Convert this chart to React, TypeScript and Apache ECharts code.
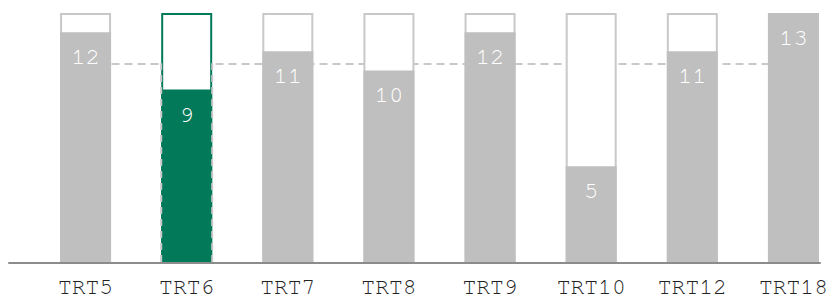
import React, { useEffect, useRef } from 'react';
import * as echarts from 'echarts';

const categories = ['TRT5', 'TRT6', 'TRT7', 'TRT8', 'TRT9', 'TRT10', 'TRT12', 'TRT18'];
const values = [12, 9, 11, 10, 12, 5, 11, 13];
const maxValue = 13;
const highlightIndex = 1;

const GREEN = '#027a5a';
const GRAY_BAR = '#bfbfbf';
const GRAY_LINE = '#c8c8c8';
const MONO = "'Nimbus Mono PS', 'Nimbus Mono L', FreeMono, 'Courier 10 Pitch', Courier, 'Liberation Mono', monospace";
const BAR_W = 51;
const CHART_W = 846;

export default function App() {
  const ref = useRef<HTMLDivElement>(null);
  useEffect(() => {
    document.body.style.margin = '0';
    document.body.style.overflow = 'hidden';
    const chart = echarts.init(ref.current!, null, { renderer: 'svg' });
    const avg = values.reduce((a, b) => a + b, 0) / values.length;

    chart.setOption({
      animation: false,
      grid: [
        { left: 9, right: CHART_W - 820, top: 13, bottom: 36 },
        { left: 35, right: 2, top: 13, bottom: 36 },
      ],
      xAxis: [
        {
          type: 'category', gridIndex: 0, data: categories,
          axisLine: { show: true, lineStyle: { color: '#8c8c8c', width: 2 } },
          axisTick: { show: false }, axisLabel: { show: false }, splitLine: { show: false },
        },
        {
          type: 'category', gridIndex: 1, data: categories,
          axisLine: { show: false }, axisTick: { show: false }, splitLine: { show: false },
          axisLabel: { color: '#222', fontFamily: MONO, fontSize: 23, margin: 14 },
        },
      ],
      yAxis: [
        { type: 'value', gridIndex: 0, min: 0, max: maxValue, show: false },
        { type: 'value', gridIndex: 1, min: 0, max: maxValue, show: false },
      ],
      series: [
        {
          type: 'line', xAxisIndex: 1, yAxisIndex: 1, data: values, z: 0,
          showSymbol: false, symbol: 'none', silent: true,
          lineStyle: { opacity: 0 },
          markLine: {
            z: 1, silent: true, symbol: 'none', label: { show: false },
            lineStyle: { type: [8, 5], color: GRAY_LINE, width: 2 },
            data: [[
              { coord: [0, avg] },
              { coord: [categories.length - 1, avg] },
            ]],
          },
        },
        {
          type: 'bar', xAxisIndex: 1, yAxisIndex: 1, z: 2, barWidth: BAR_W, barGap: '-100%', silent: true,
          data: categories.map((_, i) => ({
            value: maxValue,
            itemStyle: { color: '#fff', borderColor: i === highlightIndex ? GREEN : GRAY_LINE, borderWidth: 2 },
          })),
        },
        {
          type: 'bar', xAxisIndex: 1, yAxisIndex: 1, z: 3, barWidth: BAR_W, barGap: '-100%', silent: true,
          data: values.map((v, i) => ({
            value: v,
            itemStyle: { color: i === highlightIndex ? GREEN : GRAY_BAR },
          })),
          label: {
            show: true, position: 'insideTop', distance: 13, color: '#fff',
            fontFamily: MONO, fontSize: 24,
          },
        },
        {
          type: 'custom', xAxisIndex: 1, yAxisIndex: 1, z: 4, silent: true,
          data: [[highlightIndex, avg]],
          renderItem: (params: any, api: any) => {
            const bottom = api.coord([api.value(0), 0]);
            const top = api.coord([api.value(0), api.value(1)]);
            const half = BAR_W / 2;
            const style = { stroke: GRAY_LINE, lineWidth: 2, lineDash: [7, 5] };
            return {
              type: 'group',
              children: [
                { type: 'line', shape: { x1: bottom[0] - half, y1: bottom[1], x2: bottom[0] - half, y2: top[1] }, style },
                { type: 'line', shape: { x1: bottom[0] + half, y1: bottom[1], x2: bottom[0] + half, y2: top[1] }, style },
              ],
            };
          },
        },
      ],
    });
    return () => chart.dispose();
  }, []);
  return <div ref={ref} style={{ width: CHART_W, height: 299 }} />;
}
